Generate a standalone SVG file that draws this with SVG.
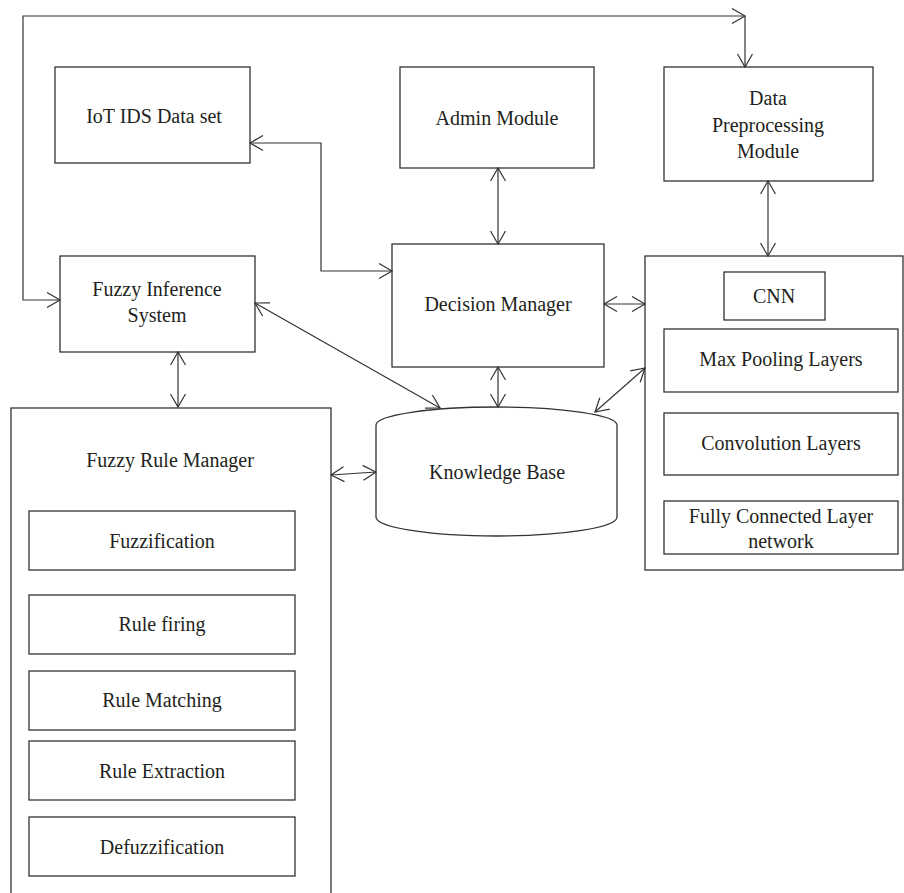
<svg xmlns="http://www.w3.org/2000/svg" width="904" height="893" viewBox="0 0 904 893">
<style>
.b{fill:#fff;stroke:#333;stroke-width:1.3}
.c{fill:none;stroke:#333;stroke-width:1.2}
text{font-family:"Liberation Serif","Times New Roman",serif;font-size:20px;fill:#231f20;text-anchor:middle;dominant-baseline:central}
</style>
<defs>
<marker id="a" viewBox="0 0 16 16" refX="14" refY="8" markerWidth="16" markerHeight="16" markerUnits="userSpaceOnUse" orient="auto-start-reverse">
<path d="M1,0.5 L14,8 L1,15.5" fill="none" stroke="#333" stroke-width="1.2"/>
</marker>
</defs>
<rect width="904" height="893" fill="#fff"/>
<g id="iot"><rect class="b" x="55" y="67" width="195" height="96"/><text x="154" y="116">IoT IDS Data set</text></g>
<g id="admin"><rect class="b" x="400" y="67" width="194" height="101"/><text x="497" y="118">Admin Module</text></g>
<g id="dpm"><rect class="b" x="664" y="67" width="209" height="114"/><text x="768" y="98">Data</text><text x="768" y="125">Preprocessing</text><text x="768" y="151">Module</text></g>
<g id="fis"><rect class="b" x="60" y="256" width="195" height="96"/><text x="157" y="289">Fuzzy Inference</text><text x="157" y="315">System</text></g>
<g id="dm"><rect class="b" x="392" y="244" width="212" height="123"/><text x="498" y="304">Decision Manager</text></g>
<g id="cnnc"><rect class="b" x="645" y="256" width="258" height="314"/>
<g id="cnn"><rect class="b" x="724" y="272" width="101" height="48"/><text x="774" y="296">CNN</text></g>
<g id="maxpool"><rect class="b" x="664" y="329" width="234" height="63"/><text x="781" y="359">Max Pooling Layers</text></g>
<g id="conv"><rect class="b" x="664" y="413" width="234" height="62"/><text x="781" y="443">Convolution Layers</text></g>
<g id="fc"><rect class="b" x="664" y="501" width="234" height="53"/><text x="781" y="516">Fully Connected Layer</text><text x="781" y="541">network</text></g>
</g>
<g id="kb"><path class="b" d="M376,425 A120.5,18 0 0 1 617,425 L617,517 A120.5,19 0 0 1 376,517 Z"/><text x="497" y="472">Knowledge Base</text></g>
<g id="frm"><rect class="b" x="11" y="408" width="320" height="495"/><text x="170" y="460">Fuzzy Rule Manager</text>
<g id="fuzz"><rect class="b" x="29" y="511" width="266" height="59"/><text x="162" y="541">Fuzzification</text></g>
<g id="firing"><rect class="b" x="29" y="595" width="266" height="59"/><text x="162" y="624">Rule firing</text></g>
<g id="match"><rect class="b" x="29" y="671" width="266" height="59"/><text x="162" y="700">Rule Matching</text></g>
<g id="extract"><rect class="b" x="29" y="741" width="266" height="59"/><text x="162" y="771">Rule Extraction</text></g>
<g id="defuzz"><rect class="b" x="29" y="817" width="266" height="59"/><text x="162" y="847">Defuzzification</text></g>
</g>
<g id="connectors">
<path class="c" d="M745,16 L23,16 L23,300 L60,300" marker-start="url(#a)" marker-end="url(#a)"/>
<path class="c" d="M745,16 L745,67" marker-end="url(#a)"/>
<path class="c" d="M250,143 L321,143 L321,271 L392,271" marker-start="url(#a)" marker-end="url(#a)"/>
<path class="c" d="M498,168 L498,244" marker-start="url(#a)" marker-end="url(#a)"/>
<path class="c" d="M768,181 L768,256" marker-start="url(#a)" marker-end="url(#a)"/>
<path class="c" d="M604,304 L645,304" marker-start="url(#a)" marker-end="url(#a)"/>
<path class="c" d="M498,367 L498,407" marker-start="url(#a)" marker-end="url(#a)"/>
<path class="c" d="M595,412 L645,368" marker-start="url(#a)" marker-end="url(#a)"/>
<path class="c" d="M255,303 L440,408" marker-start="url(#a)" marker-end="url(#a)"/>
<path class="c" d="M178,352 L178,407" marker-start="url(#a)" marker-end="url(#a)"/>
<path class="c" d="M331,475 L376,472" marker-start="url(#a)" marker-end="url(#a)"/>
</g>
</svg>
